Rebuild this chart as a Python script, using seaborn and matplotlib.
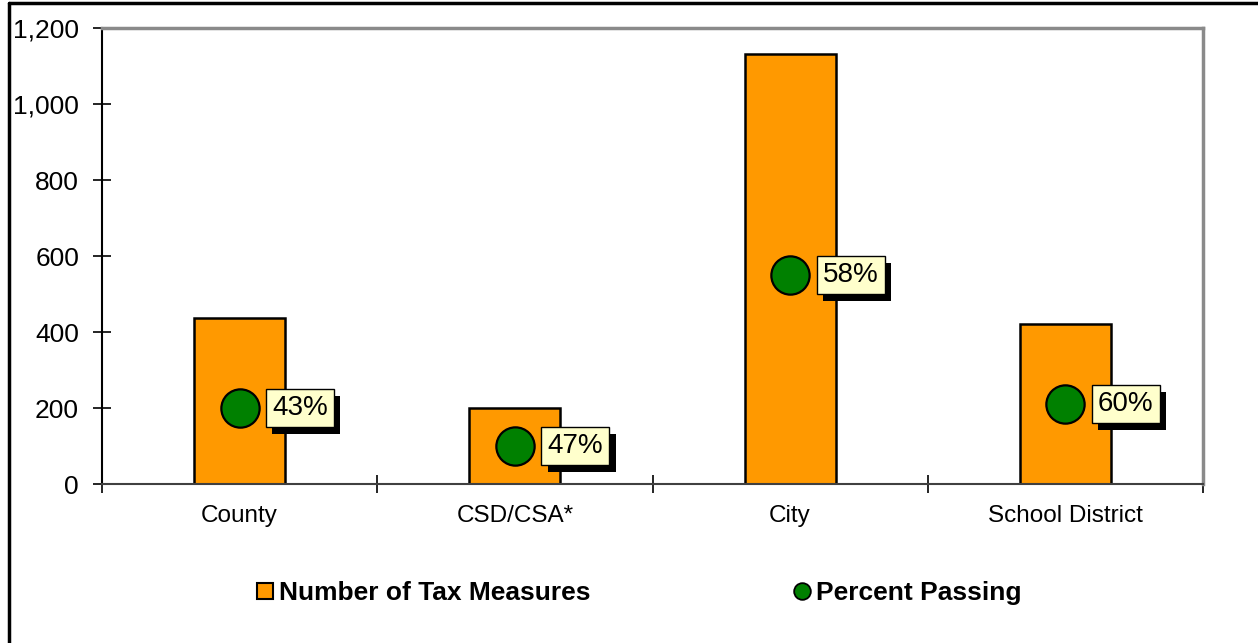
import matplotlib
matplotlib.use("Agg")
import matplotlib.pyplot as plt
import matplotlib.ticker as mticker
import matplotlib.patheffects as pe
from matplotlib.lines import Line2D
import numpy as np
import seaborn as sns

categories = ["County", "CSD/CSA*", "City", "School District"]
tax_measures = [438, 200, 1132, 421]
dot_height = [200, 100, 550, 210]
pct_passing = ["43%", "47%", "58%", "60%"]
y_ticks = [0, 200, 400, 600, 800, 1000, 1200]

sns.set_style("white")
plt.rcParams['font.family'] = ['Liberation Sans', 'DejaVu Sans']
plt.rcParams['text.color'] = 'black'
plt.rcParams['xtick.color'] = 'black'
plt.rcParams['ytick.color'] = 'black'

fig = plt.figure(figsize=(12.58, 6.43), dpi=100)
ax = fig.add_axes([102 / 1258, 1 - 484 / 643, (1203 - 102) / 1258, (484 - 28) / 643])

xpos = np.arange(len(categories))

sns.barplot(x=xpos, y=tax_measures, color="#FF9900", saturation=1, width=0.33,
            edgecolor="black", linewidth=1.8, ax=ax, zorder=2)
sns.scatterplot(x=xpos, y=dot_height, s=760, color="#008000", edgecolor="black",
                linewidth=1.6, ax=ax, zorder=4, legend=False)

# labels with drop shadow on the box
for x, y, lab in zip(xpos, dot_height, pct_passing):
    t = ax.annotate(lab, (x, y), xytext=(23.5, 0), textcoords="offset points",
                    ha="left", va="center", fontsize=20, color="black", zorder=6,
                    bbox=dict(boxstyle="square,pad=0.22", fc="#FFFFCC", ec="black", lw=1))
    t.get_bbox_patch().set_path_effects([
        pe.SimplePatchShadow(offset=(4.5, -5), shadow_rgbFace="black", alpha=1),
        pe.Normal()])

ax.set_xlim(-0.5, len(categories) - 0.5)
ax.set_ylim(0, 1200)
ax.set_yticks(y_ticks)
ax.yaxis.set_major_formatter(mticker.FuncFormatter(lambda v, p: f"{int(v):,}"))
ax.set_xticks(xpos)
ax.set_xticklabels(categories)
ax.set_xticks(np.arange(len(categories) + 1) - 0.5, minor=True)

ax.tick_params(axis="y", direction="inout", length=13, width=1.2, color="black",
               labelsize=19, pad=10, left=True)
ax.tick_params(axis="x", which="major", length=0, labelsize=17.5, pad=15)
ax.tick_params(axis="x", which="minor", direction="inout", length=13, width=1.2,
               color="black", bottom=True)

for side in ["top", "right"]:
    ax.spines[side].set_color("#8a8a8a")
    ax.spines[side].set_linewidth(2.5)
ax.spines["left"].set_color("black")
ax.spines["left"].set_linewidth(1.5)
ax.spines["bottom"].set_color("#404040")
ax.spines["bottom"].set_linewidth(1.5)
ax.set_xlabel("")
ax.set_ylabel("")

handles = [
    Line2D([], [], marker="s", linestyle="none", markersize=11,
           markerfacecolor="#FF9900", markeredgecolor="black", markeredgewidth=1.5),
    Line2D([], [], marker="o", linestyle="none", markersize=12,
           markerfacecolor="#008000", markeredgecolor="black", markeredgewidth=1.3),
]
fig.legend(handles, ["Number of Tax Measures", "Percent Passing"],
           loc="center", bbox_to_anchor=(0.507, 1 - 593 / 643), ncol=2,
           frameon=False, prop=dict(weight="bold", size=19),
           handletextpad=0.15, columnspacing=7.6, handlelength=0.8)

# outer frame pieces
fig.add_artist(Line2D([9 / 1258, 9 / 1258], [0, 1 - 3 / 643], color="black", lw=2.5))
fig.add_artist(Line2D([9 / 1258, 1], [1 - 3 / 643, 1 - 3 / 643], color="black", lw=2.5))

fig.savefig("out.png", dpi=100)
